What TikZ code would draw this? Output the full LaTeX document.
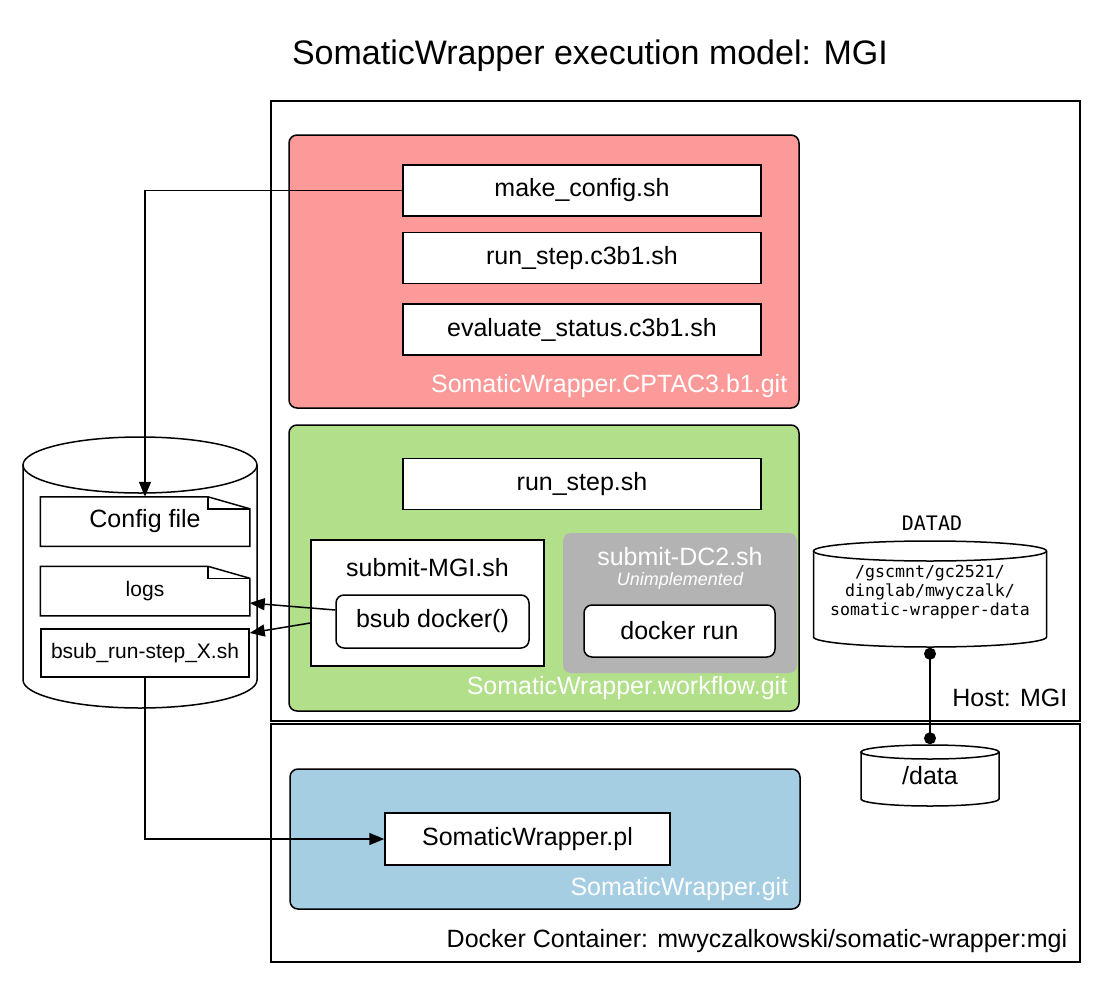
\documentclass[tikz,border=0pt]{standalone}
\usepackage{fontspec}
\setmainfont{Liberation Sans}
\setmonofont{DejaVu Sans Mono}
\usetikzlibrary{arrows.meta,calc}
\tikzset{>={Triangle[length=15pt,width=12pt]}}
\definecolor{cptacpink}{HTML}{FB9A99}
\definecolor{workflowgreen}{HTML}{B2DF8A}
\definecolor{dockerblue}{HTML}{A6CEE3}
\definecolor{unimplgray}{HTML}{B3B3B3}

\begin{document}
\begin{tikzpicture}[x=1pt,y=-1pt,line width=1.5pt,
    txt/.style={font=\fontsize{25}{30}\selectfont},
    small/.style={font=\fontsize{21}{25}\selectfont},
    script/.style={draw,fill=white,txt,minimum width=358pt,minimum height=51pt},
    cluster/.style={draw,rounded corners=8pt,minimum width=510pt},
    gitlabel/.style={txt,text=white,anchor=base east,inner sep=0pt},
    hostlabel/.style={txt,anchor=base east,inner sep=0pt},
    file/.style={minimum width=208pt,minimum height=48pt,inner sep=0pt},
    call/.style={draw,fill=white,rounded corners=8pt,txt}]
    \useasboundingbox (0,0) rectangle (1104,985);

    \node[font=\fontsize{34}{40}\selectfont,anchor=base] (title) at (590,64)
      {SomaticWrapper execution model: MGI};

    % host and container
    \node[draw,minimum width=809pt,minimum height=620pt] (host) at (675.5,411) {};
    \node[draw,minimum width=809pt,minimum height=238pt] (docker) at (675.5,843) {};
    \node[hostlabel] at (1068,706) {Host: MGI};
    \node[hostlabel] at (1068,947) {Docker Container: mwyczalkowski/somatic-wrapper:mgi};

    % repositories
    \node[cluster,fill=cptacpink,minimum height=273pt] (cptac) at (544,271.5) {};
    \node[gitlabel] at (788,392) {SomaticWrapper.CPTAC3.b1.git};
    \node[cluster,fill=workflowgreen,minimum height=286pt] (workflow) at (544,568) {};
    \node[gitlabel] at (788,694) {SomaticWrapper.workflow.git};
    \node[cluster,fill=dockerblue,minimum height=140pt] (swgit) at (545,839) {};
    \node[gitlabel] at (789,895) {SomaticWrapper.git};

    \node[script] (mkcfg) at (582,190.5) {make\_config.sh};
    \node[script] (runc3b1) at (582,258) {run\_step.c3b1.sh};
    \node[script] (evalst) at (582,329.5) {evaluate\_status.c3b1.sh};
    \node[script] (runstep) at (582,484) {run\_step.sh};

    \node[draw,fill=white,minimum width=233pt,minimum height=126pt] (submgi) at (427.5,603) {};
    \node[txt,anchor=base] at (427.5,576) {submit-MGI.sh};
    \node[call,minimum width=193pt,minimum height=53pt] (bsubd) at (432.5,621.5) {bsub docker()};

    \node[fill=unimplgray,rounded corners=8pt,minimum width=234pt,minimum height=140pt] (subdc2) at (680,603) {};
    \node[txt,text=white,anchor=base,inner sep=0pt] at (680,565) {submit-DC2.sh};
    \node[font=\fontsize{18}{22}\selectfont\itshape,text=white,anchor=base,inner sep=0pt] at (680,585) {Unimplemented};
    \node[call,minimum width=191pt,minimum height=52pt] (dockrun) at (679.5,631) {docker run};

    \node[draw,fill=white,txt,minimum width=285pt,minimum height=52pt] (swpl) at (527.5,839) {SomaticWrapper.pl};

    % left storage
    \node[minimum width=234pt,minimum height=271pt] (store) at (140,572.5) {};
    \draw (23,465) -- (23,680) arc[start angle=180,end angle=0,x radius=117,y radius=28] -- (257,465);
    \draw (140,465) ellipse[x radius=117,y radius=28];
    \node[file,txt] (cfg) at (145,521.5) {Config file};
    \node[file,small] (logs) at (145,591) {logs};
    \node[file,draw,small] (bsubrun) at (145,653) {bsub\_run-step\_X.sh};
    \foreach \n in {cfg,logs}{
      \draw (\n.south west) -- (\n.north west) -- ([xshift=-42pt]\n.north east)
        -- ([yshift=-12pt]\n.north east) -- (\n.south east) -- cycle;
      \draw ([xshift=-42pt]\n.north east) |- ([yshift=-12pt]\n.north east);
    }

    % data volumes
    \node[minimum width=233pt,minimum height=109pt,font=\ttfamily\fontsize{16.6}{19}\selectfont,align=center] (datad) at (930,592.5)
      {/gscmnt/gc2521/\\dinglab/mwyczalk/\\somatic-wrapper-data};
    \draw (813.5,551) -- (813.5,637) arc[start angle=180,end angle=0,x radius=116.5,y radius=10] -- (1046.5,551);
    \draw (930,551) ellipse[x radius=116.5,y radius=10];
    \node[font=\ttfamily\fontsize{20}{24}\selectfont,anchor=base] at (932,530) {DATAD};

    \node[txt,minimum width=138pt,minimum height=61pt] (data) at (930,775.5) {/data};
    \draw (861,752) -- (861,799) arc[start angle=180,end angle=0,x radius=69,y radius=7] -- (999,752);
    \draw (930,752) ellipse[x radius=69,y radius=7];

    % connectors
    \draw[->] (mkcfg.west) -| (cfg.north);
    \draw[->] ([yshift=11.5pt]bsubd.west) -- ([yshift=-12pt]logs.east);
    \draw[->] ([yshift=-20pt]submgi.west) -- ([yshift=20pt]bsubrun.east);
    \draw[->] (bsubrun.south) |- (swpl.west);
    \draw[{Circle[length=12pt]}-{Circle[length=12pt]}] (datad.south) -- (data.north);
\end{tikzpicture}
\end{document}
